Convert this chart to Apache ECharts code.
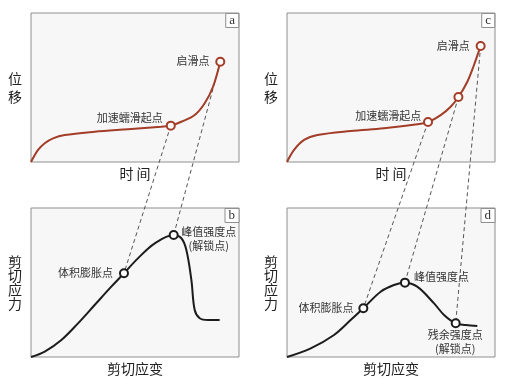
<!DOCTYPE html>
<html><head><meta charset="utf-8">
<script src="https://cdn.jsdelivr.net/npm/echarts@6/dist/echarts.min.js"></script>
<style>html,body{margin:0;padding:0;background:#fff}#main{width:510px;height:389px}</style>
</head><body><div id="main"></div>
<script>
// ---- data (panel coordinates: x 0..100, y 0..100) ----
const panelLetters = ['a', 'b', 'c', 'd'];
const xNames = ['时 间', '剪切应变', '时 间', '剪切应变'];
const yNames = ['位\n移', '剪\n切\n应\n力', '位\n移', '剪\n切\n应\n力'];

const curveA = [[0,0],[3.4,8.1],[6.6,12.6],[10.6,15.9],[16.2,18.1],[30.6,20.3],[46.6,22.0],[62.6,23.7],[67.2,24.4],[72.3,27.0],[78.7,31.5],[83.5,39.4],[87.5,50.5],[91.0,67.3]];
const pointsA = [[67.2,24.4],[91.0,67.3]];
const labelsA = ['加速蠕滑起点', '启滑点'];

const curveB = [[0,0],[6.6,3.6],[14.6,11.4],[22.6,22.6],[30.6,34.9],[38.6,47.2],[44.7,56.2],[51.4,66.2],[59.5,76.3],[68.6,81.9],[72.3,79.7],[74.7,71.8],[77.1,51.7],[78.7,31.5],[81.1,26.0],[85.1,24.8],[90.7,24.8]];
const pointsB = [[44.7,56.2],[68.6,81.9]];
const labelsB = ['体积膨胀点', '峰值强度点\n(解锁点)'];

const curveC = [[0,0],[3.4,8.1],[8.2,14.8],[14.6,18.1],[30.6,20.8],[46.6,22.6],[62.6,25.3],[67.8,26.8],[73.9,31.5],[78.7,37.1],[82.4,43.6],[86.7,53.9],[89.9,65.1],[93.1,77.9]];
const pointsC = [[67.8,26.8],[82.4,43.6],[93.1,77.9]];
const labelsC = ['加速蠕滑起点', '', '启滑点'];

const curveD = [[0,0],[11.4,5.8],[22.6,14.8],[30.6,24.8],[36.7,32.7],[45.0,43.8],[51.4,48.3],[56.7,49.9],[62.6,47.2],[70.7,36.0],[75.5,28.2],[81.1,22.6],[85.9,21.5],[91.5,20.8]];
const pointsD = [[36.7,32.7],[56.7,49.9],[81.1,22.6]];
const labelsD = ['体积膨胀点', '峰值强度点', '残余强度点\n(解锁点)'];

// links: [fromPanel, fromPoint, toPanel, toPoint]
const links = [[0,0,1,0],[0,1,1,1],[2,0,3,0],[2,1,3,1],[2,2,3,2]];

// ---- styling ----
const curves = [curveA, curveB, curveC, curveD];
const points = [pointsA, pointsB, pointsC, pointsD];
const labels = [labelsA, labelsB, labelsC, labelsD];
const labelOffsets = [
  [[-41,-7.4],[-27.3,-0.7]],
  [[-38.5,0],[35,3.7]],
  [[-39.8,-6.3],[0,0],[-27.5,0]],
  [[-37.3,0],[36.5,-6],[-0.5,18.9]]
];
const colors = ['#a23d28', '#1c1c1c', '#a23d28', '#1c1c1c'];
const gridPos = [
  {left:31, top:13}, {left:31, top:208}, {left:287, top:13}, {left:287, top:208}
];
const yNameLineHeight = [18, 14, 18, 14];
const FONT = 'Noto Sans CJK SC';

const chart = echarts.init(document.getElementById('main'), null, {renderer:'canvas'});
const option = {
  animation: false,
  backgroundColor: '#fff',
  title: panelLetters.map((t, i) => ({
    text: t,
    right: i < 2 ? 510 - 239 : 510 - 495,
    top: gridPos[i].top,
    padding: [1, 4, 1, 4],
    backgroundColor: '#fff',
    borderColor: '#8f8f8f',
    borderWidth: 1,
    textStyle: {fontFamily: 'Liberation Serif', fontSize: 13, fontWeight: 'normal', color: '#333', lineHeight: 13}
  })),
  grid: gridPos.map(g => ({
    left: g.left, top: g.top, width: 208, height: 149,
    show: true, backgroundColor: '#f7f7f7', borderColor: '#8f8f8f', borderWidth: 1
  })),
  xAxis: gridPos.map((g, i) => ({
    type: 'value', gridIndex: i, min: 0, max: 100,
    axisLine: {show: false}, axisTick: {show: false}, axisLabel: {show: false}, splitLine: {show: false},
    name: xNames[i], nameLocation: 'middle', nameGap: 5,
    nameTextStyle: {fontFamily: FONT, fontSize: 14, color: '#222'}
  })),
  yAxis: gridPos.map((g, i) => ({
    type: 'value', gridIndex: i, min: 0, max: 100,
    axisLine: {show: false}, axisTick: {show: false}, axisLabel: {show: false}, splitLine: {show: false},
    name: yNames[i], nameLocation: 'middle', nameRotate: 0, nameGap: 9,
    nameTextStyle: {fontFamily: FONT, fontSize: 14, color: '#222', lineHeight: yNameLineHeight[i]}
  })),
  series: []
};
curves.forEach((c, i) => {
  option.series.push({
    type: 'line', xAxisIndex: i, yAxisIndex: i, data: c,
    smooth: 0.35, symbol: 'none', silent: true,
    lineStyle: {color: colors[i], width: 2}, z: 2
  });
  option.series.push({
    type: 'scatter', xAxisIndex: i, yAxisIndex: i, symbol: 'circle', symbolSize: 8, z: 4,
    itemStyle: {color: '#fff', borderColor: colors[i], borderWidth: 2, opacity: 1},
    label: {
      show: true, position: 'inside', align: 'center', verticalAlign: 'middle',
      formatter: '{b}', color: '#333', fontFamily: FONT, fontSize: 11, lineHeight: 14
    },
    data: points[i].map((p, k) => ({
      name: labels[i][k], value: p,
      label: {show: labels[i][k] !== '', offset: labelOffsets[i][k]}
    }))
  });
});
chart.setOption(option);

const px = (g, p) => chart.convertToPixel({gridIndex: g}, p);
chart.setOption({
  graphic: links.map(([g1, i1, g2, i2]) => {
    const a = px(g1, points[g1][i1]);
    const b = px(g2, points[g2][i2]);
    return {
      type: 'line', z: 1, silent: true,
      shape: {x1: a[0], y1: a[1], x2: b[0], y2: b[1]},
      style: {stroke: '#555', lineWidth: 1, lineDash: [4, 3]}
    };
  })
});
</script>
</body></html>
